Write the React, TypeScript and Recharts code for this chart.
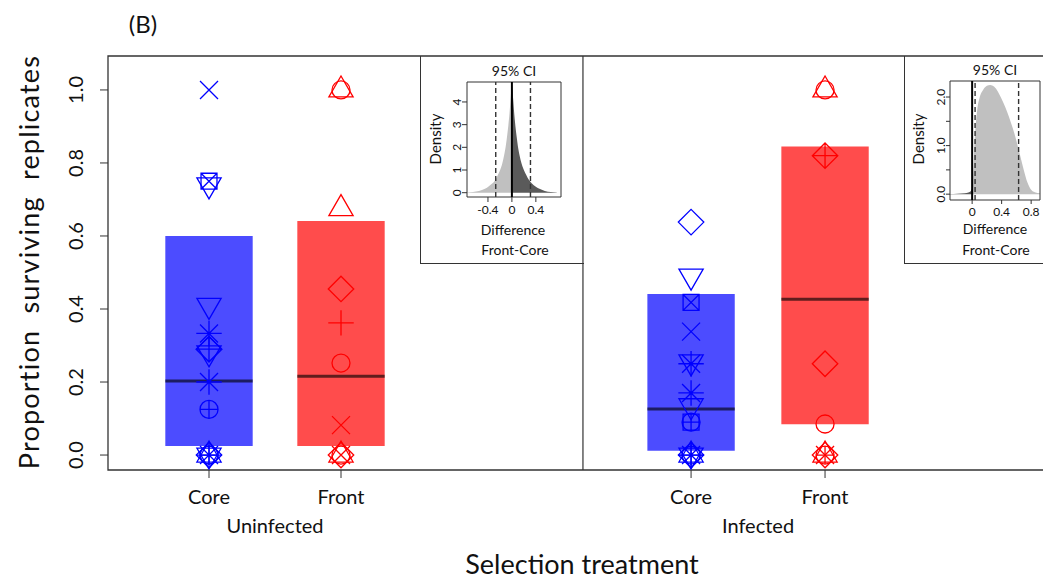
import React from 'react';
import { ComposedChart, Scatter, XAxis, YAxis, ReferenceArea, ReferenceLine, Area } from 'recharts';

const FONT = "Lato, 'Open Sans', 'DejaVu Sans', sans-serif";

// ---------- categories & tick labels ----------
const treatmentLabels = ['Core', 'Front', 'Core', 'Front'];
const infectionLabels = ['Uninfected', 'Infected'];
const mainYTicks = [0, 0.2, 0.4, 0.6, 0.8, 1.0];

// ---------- bar summaries (same order as treatmentLabels) ----------
const barLow = [0.025, 0.025, 0.012, 0.084];
const barHigh = [0.6, 0.641, 0.441, 0.845];
const barMedian = [0.203, 0.216, 0.126, 0.427];

// ---------- replicate points ----------
const uninfCoreValues = [1.0, 0.75, 0.74, 0.41, 0.333, 0.29, 0.29, 0.28, 0.2, 0.125, 0, 0, 0, 0, 0, 0];
const uninfCoreSymbols = ['x', 'boxX', 'triDown', 'triDown', 'asterisk', 'diamond', 'diamondPlus', 'triDown', 'asterisk', 'circlePlus', 'circle', 'diamond', 'asterisk', 'triUp', 'triDown', 'circlePlus'];

const uninfFrontValues = [1.0, 1.0, 0.675, 0.455, 0.362, 0.252, 0.082, 0, 0, 0, 0];
const uninfFrontSymbols = ['circle', 'triUp', 'triUp', 'diamond', 'plus', 'circle', 'x', 'diamond', 'circle', 'triUp', 'x'];

const infCoreValues = [0.638, 0.49, 0.418, 0.338, 0.255, 0.25, 0.17, 0.135, 0.09, 0.09, 0, 0, 0, 0, 0, 0];
const infCoreSymbols = ['diamond', 'triDown', 'boxX', 'x', 'triDown', 'asterisk', 'asterisk', 'triDown', 'square', 'circlePlus', 'circle', 'diamond', 'asterisk', 'triUp', 'triDown', 'plus'];

const infFrontValues = [1.0, 1.0, 0.82, 0.25, 0.085, 0, 0, 0, 0];
const infFrontSymbols = ['circle', 'triUp', 'diamondPlus', 'diamond', 'circle', 'circlePlus', 'x', 'triUp', 'diamond'];

// ---------- inset posterior densities (Front - Core) ----------
const uninfDiffX = [-0.75, -0.65, -0.55, -0.45, -0.4, -0.33, -0.28, -0.24, -0.2, -0.16, -0.13, -0.1, -0.08, -0.06, -0.04, -0.02, -0.01, 0, 0.01, 0.02, 0.04, 0.06, 0.08, 0.1, 0.13, 0.16, 0.2, 0.24, 0.28, 0.33, 0.4, 0.45, 0.55, 0.65, 0.75];
const uninfDiffDensity = [0.01, 0.03, 0.07, 0.17, 0.25, 0.4, 0.55, 0.75, 0.98, 1.3, 1.65, 2.1, 2.5, 2.95, 3.5, 4.2, 4.55, 4.85, 4.5, 4.15, 3.45, 2.9, 2.45, 2.05, 1.62, 1.3, 1.0, 0.78, 0.58, 0.42, 0.26, 0.18, 0.08, 0.03, 0.01];
const uninfCI = [-0.27, 0.31];
const uninfYTicks = [0, 1, 2, 3, 4];
const uninfYTickLabels = ['0', '1', '2', '3', '4'];
const uninfXTicks = [-0.4, 0, 0.4];
const uninfXTickLabels = ['-0.4', '0', '0.4'];

const infDiffX = [-0.3, -0.2, -0.1, -0.05, -0.02, 0, 0.01, 0.02, 0.03, 0.05, 0.07, 0.1, 0.15, 0.2, 0.245, 0.3, 0.35, 0.4, 0.45, 0.5, 0.55, 0.6, 0.65, 0.7, 0.75, 0.8, 0.85, 0.92];
const infDiffDensity = [0.005, 0.01, 0.02, 0.035, 0.06, 0.12, 0.35, 0.6, 1.0, 1.45, 1.75, 1.98, 2.15, 2.23, 2.25, 2.21, 2.11, 1.96, 1.79, 1.59, 1.36, 1.1, 0.8, 0.5, 0.24, 0.09, 0.04, 0.02];
const infCI = [0.04, 0.63];
const infYTicks = [0, 0.5, 1, 1.5, 2];
const infYTickLabels = ['0.0', '', '1.0', '', '2.0'];
const infXTicks = [0, 0.4, 0.8];
const infXTickLabels = ['0', '0.4', '0.8'];

// ---------- layout (category positions on the numeric x scale) ----------
const catPos = [1, 2, 4.652, 5.667];
const groupPos = [(catPos[0] + catPos[1]) / 2, (catPos[2] + catPos[3]) / 2];
const dividerPos = 3.833;
const xDomain: [number, number] = [0.2348, 7.447];
const yDomain: [number, number] = [-0.041, 1.093];
const barHalf = 0.331;
const colors = ['#0000FF', '#FF0000', '#0000FF', '#FF0000'];

const groupValues = [uninfCoreValues, uninfFrontValues, infCoreValues, infFrontValues];
const groupSymbols = [uninfCoreSymbols, uninfFrontSymbols, infCoreSymbols, infFrontSymbols];

function Pch({ cx, cy, sym, color }: any) {
  if (cx == null || cy == null) return null;
  const R = 9;
  const sq = R * 0.886;
  const dm = R * Math.SQRT2;
  const tr = R * 1.5551, tx = R * 1.3468, ty = R * 0.7776;
  const pl = R * Math.SQRT2;
  const xPath = (h: number) => `M${cx - h},${cy - h}L${cx + h},${cy + h}M${cx - h},${cy + h}L${cx + h},${cy - h}`;
  const plusPath = (h: number) => `M${cx - h},${cy}L${cx + h},${cy}M${cx},${cy - h}L${cx},${cy + h}`;
  const diamondPath = `M${cx},${cy - dm}L${cx + dm},${cy}L${cx},${cy + dm}L${cx - dm},${cy}Z`;
  const squarePath = `M${cx - sq},${cy - sq}L${cx + sq},${cy - sq}L${cx + sq},${cy + sq}L${cx - sq},${cy + sq}Z`;
  const triUpPath = `M${cx},${cy - tr}L${cx + tx},${cy + ty}L${cx - tx},${cy + ty}Z`;
  const triDownPath = `M${cx},${cy + tr}L${cx + tx},${cy - ty}L${cx - tx},${cy - ty}Z`;
  let d = '';
  let circle = false;
  switch (sym) {
    case 'circle': circle = true; break;
    case 'x': d = xPath(R); break;
    case 'plus': d = plusPath(pl); break;
    case 'asterisk': d = xPath(R) + plusPath(pl); break;
    case 'diamond': d = diamondPath; break;
    case 'diamondPlus': d = diamondPath + plusPath(dm); break;
    case 'square': d = squarePath; break;
    case 'boxX': d = squarePath + xPath(sq); break;
    case 'triUp': d = triUpPath; break;
    case 'triDown': d = triDownPath; break;
    case 'circlePlus': circle = true; d = plusPath(R); break;
    default: circle = true;
  }
  return (
    <g fill="none" stroke={color} strokeWidth={1.3}>
      {circle && <circle cx={cx} cy={cy} r={R} />}
      {d && <path d={d} />}
    </g>
  );
}

const nearestIndex = (arr: number[], v: number) => {
  let best = 0;
  arr.forEach((a, i) => { if (Math.abs(a - v) < Math.abs(arr[best] - v)) best = i; });
  return best;
};

const TreatTick = (props: any) => {
  const { x, y, payload } = props;
  const i = nearestIndex(catPos, Number(payload.value));
  return (
    <g>
      <text x={x} y={y + 24} textAnchor="middle" fontSize={20} fontFamily={FONT} fill="#111">
        {treatmentLabels[i]}
      </text>
    </g>
  );
};

const GroupTick = (props: any) => {
  const { x, y, payload } = props;
  const i = nearestIndex(groupPos, Number(payload.value));
  return (
    <g>
      <text x={x} y={y + 23} textAnchor="middle" fontSize={20} fontFamily={FONT} fill="#111">
        {infectionLabels[i]}
      </text>
    </g>
  );
};

const MainYTick = (props: any) => {
  const { x, y, payload } = props;
  const bx = x - 15;
  return (
    <text x={bx} y={y} transform={`rotate(-90 ${bx} ${y})`} textAnchor="middle" fontSize={20} fontFamily={FONT} fill="#111">
      {Number(payload.value).toFixed(1)}
    </text>
  );
};

function DensityInset(props: any) {
  const { xs, ys, ci, darkRight, xDom, yDom, xTicks, xLabels, yTicks, yLabels, width, height, margin, yAxisWidth, tickLen } = props;
  const data = xs.map((v: number, i: number) => ({
    d: v,
    left: v <= 0 ? ys[i] : null,
    right: v >= 0 ? ys[i] : null,
  }));
  const lightC = '#C0C0C0';
  const darkC = '#5A5A5A';
  const XT = (p: any) => (
    <text x={p.x} y={p.y + 12} textAnchor="middle" fontSize={12} fontFamily={FONT} fill="#111">{xLabels[nearestIndex(xTicks, Number(p.payload.value))]}</text>
  );
  const YT = (p: any) => {
    const bx = p.x - 1;
    return (
      <text x={bx} y={p.y} transform={`rotate(-90 ${bx} ${p.y})`} textAnchor="middle" fontSize={12} fontFamily={FONT} fill="#111">{yLabels[nearestIndex(yTicks, Number(p.payload.value))]}</text>
    );
  };
  return (
    <ComposedChart width={width} height={height} margin={margin} data={data}>
      <XAxis dataKey="d" type="number" domain={xDom} ticks={xTicks} allowDataOverflow axisLine={false} tickSize={tickLen} tickMargin={0} tickLine={{ stroke: '#333' }} tick={<XT />} interval={0} height={30} />
      <YAxis type="number" domain={yDom} ticks={yTicks} allowDataOverflow axisLine={false} tickSize={tickLen} tickMargin={0} tickLine={{ stroke: '#333' }} tick={<YT />} interval={0} width={yAxisWidth} />
      <Area type="monotone" dataKey="left" fill={darkRight ? lightC : darkC} fillOpacity={1} stroke="none" isAnimationActive={false} connectNulls={false} dot={false} activeDot={false} />
      <Area type="monotone" dataKey="right" fill={darkRight ? darkC : lightC} fillOpacity={1} stroke="none" isAnimationActive={false} connectNulls={false} dot={false} activeDot={false} />
      <ReferenceLine x={ci[0]} stroke="#333" strokeWidth={1.4} strokeDasharray="5 3" />
      <ReferenceLine x={ci[1]} stroke="#333" strokeWidth={1.4} strokeDasharray="5 3" />
      <ReferenceLine x={0} stroke="#000" strokeWidth={2} />
      <ReferenceArea x1={xDom[0]} x2={xDom[1]} y1={yDom[0]} y2={yDom[1]} fill="none" stroke="#333" strokeWidth={1} />
    </ComposedChart>
  );
}

const centered = (left: number, top: number, size: number, extra: any = {}) => ({
  position: 'absolute' as const,
  left,
  top,
  transform: 'translate(-50%, -50%)' + (extra.rotate ? ' rotate(-90deg)' : ''),
  fontSize: size,
  lineHeight: 1,
  whiteSpace: 'nowrap' as const,
  fontFamily: FONT,
  color: '#111',
  letterSpacing: extra.letterSpacing || 0,
});

const Hidden = () => <g />;

export default function App() {
  const groupData = groupValues.map((vals, g) =>
    vals.map((v, i) => ({ x: catPos[g], y: v, sym: groupSymbols[g][i] }))
  );
  const groupAnchor = groupPos.map((p) => ({ x: p, y: 0 }));
  return (
    <div style={{ position: 'absolute', left: 0, top: 0, width: 1043, height: 582, overflow: 'hidden', background: '#fff', fontFamily: FONT }}>
      <div style={{ position: 'absolute', left: 0, top: 0 }}>
        <ComposedChart width={1060} height={582} margin={{ top: 56, right: 0, left: 0, bottom: 32 }}>
          <XAxis dataKey="x" type="number" domain={xDomain} ticks={catPos} allowDataOverflow axisLine={false} tickSize={8} tickMargin={2} tickLine={{ stroke: '#333' }} tick={<TreatTick />} interval={0} height={40} />
          <XAxis xAxisId="g" dataKey="x" type="number" domain={xDomain} ticks={groupPos} allowDataOverflow axisLine={false} tickLine={false} tickSize={0} tickMargin={0} tick={<GroupTick />} interval={0} height={40} />
          <YAxis dataKey="y" type="number" domain={yDomain} ticks={mainYTicks} allowDataOverflow axisLine={false} tickSize={8} tickMargin={2} tickLine={{ stroke: '#333' }} tick={<MainYTick />} interval={0} width={108} />
          {catPos.map((p, i) => (
            <ReferenceArea key={'bar' + i} x1={p - barHalf} x2={p + barHalf} y1={barLow[i]} y2={barHigh[i]} fill={colors[i]} fillOpacity={0.7} stroke="none" />
          ))}
          {catPos.map((p, i) => (
            <ReferenceLine key={'med' + i} segment={[{ x: p - barHalf, y: barMedian[i] }, { x: p + barHalf, y: barMedian[i] }]} stroke="#000" strokeOpacity={0.62} strokeWidth={3} />
          ))}
          <ReferenceLine x={dividerPos} stroke="#333" strokeWidth={1.2} />
          <ReferenceArea x1={xDomain[0]} x2={xDomain[1]} y1={yDomain[0]} y2={yDomain[1]} fill="none" stroke="#333" strokeWidth={1.3} />
          {groupData.map((d, g) => (
            <Scatter key={'pts' + g} data={d} dataKey="y" isAnimationActive={false}
              shape={(pp: any) => <Pch cx={pp.cx} cy={pp.cy} sym={(pp.payload && pp.payload.sym) || pp.sym} color={colors[g]} />} />
          ))}
          <Scatter xAxisId="g" data={groupAnchor} dataKey="y" isAnimationActive={false} shape={<Hidden />} legendType="none" />
        </ComposedChart>
      </div>

      {/* inset frames */}
      <div style={{ position: 'absolute', left: 420, top: 56, width: 163, height: 207, borderLeft: '1px solid #333', borderBottom: '1px solid #333' }} />
      <div style={{ position: 'absolute', left: 904, top: 56, width: 200, height: 207, borderLeft: '1px solid #333', borderBottom: '1px solid #333' }} />

      <div style={{ position: 'absolute', left: 420, top: 56 }}>
        <DensityInset xs={uninfDiffX} ys={uninfDiffDensity} ci={uninfCI} darkRight={true}
          xDom={[-0.75, 0.82]} yDom={[-0.19, 4.88]} xTicks={uninfXTicks} xLabels={uninfXTickLabels}
          yTicks={uninfYTicks} yLabels={uninfYTickLabels} width={163} height={207}
          margin={{ top: 26, right: 22, left: 0, bottom: 36 }} yAxisWidth={47} tickLen={5} />
      </div>
      <div style={{ position: 'absolute', left: 904, top: 56 }}>
        <DensityInset xs={infDiffX} ys={infDiffDensity} ci={infCI} darkRight={false}
          xDom={[-0.3, 0.92]} yDom={[-0.12, 2.33]} xTicks={infXTicks} xLabels={infXTickLabels}
          yTicks={infYTicks} yLabels={infYTickLabels} width={180} height={207}
          margin={{ top: 25, right: 44, left: 0, bottom: 33 }} yAxisWidth={46} tickLen={4} />
      </div>

      {/* inset texts */}
      <div style={centered(514, 71, 14)}>95% CI</div>
      <div style={centered(435, 139, 15, { rotate: true })}>Density</div>
      <div style={centered(513, 230, 14)}>Difference</div>
      <div style={centered(515, 250, 14)}>Front-Core</div>

      <div style={centered(995, 70, 14)}>95% CI</div>
      <div style={centered(918, 139, 15, { rotate: true })}>Density</div>
      <div style={centered(995, 229, 14)}>Difference</div>
      <div style={centered(996, 250, 14)}>Front-Core</div>

      {/* main texts */}
      <div style={centered(143, 24, 24)}>(B)</div>
      <div style={centered(28, 262, 27, { rotate: true, letterSpacing: 1.2 })}>{'Proportion\u00a0\u00a0surviving\u00a0\u00a0replicates'}</div>
      <div style={centered(582, 563, 27)}>Selection treatment</div>
    </div>
  );
}
